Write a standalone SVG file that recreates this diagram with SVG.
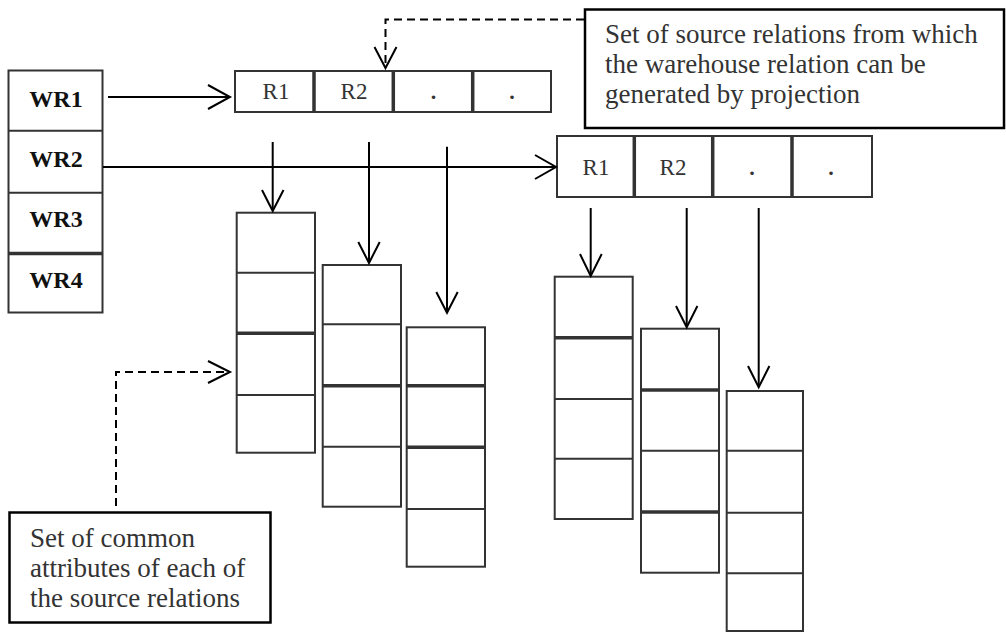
<svg xmlns="http://www.w3.org/2000/svg" width="1006" height="633" viewBox="0 0 1006 633">
  <style>
    .box { fill: #fff; stroke: #333; stroke-width: 2; }
    .div { stroke: #333; stroke-width: 2; }
    .thick { stroke: #333; stroke-width: 3.5; }
    .wr { font-family: "Liberation Serif", "Times New Roman", serif; font-weight: bold; font-size: 24px; fill: #111; text-anchor: middle; }
    .cell { font-family: "Liberation Serif", "Times New Roman", serif; font-size: 23px; fill: #333; text-anchor: middle; }
    .dot { font-family: "Liberation Serif", "Times New Roman", serif; font-weight: bold; font-size: 22px; fill: #333; text-anchor: middle; }
    .note { font-family: "Liberation Serif", "Times New Roman", serif; font-size: 27px; fill: #333; }
    .wire { fill: none; stroke: #000; stroke-width: 2; }
    .dash { fill: none; stroke: #000; stroke-width: 2; stroke-dasharray: 8 5; }
    .head { fill: none; stroke: #000; stroke-width: 2; }
  </style>

  <!-- warehouse relations list -->
  <g id="wr-list">
    <rect class="box" x="8.5" y="70.5" width="94" height="242"/>
    <line class="div" x1="8.5" y1="130.7" x2="102.5" y2="130.7"/>
    <line class="div" x1="8.5" y1="192.7" x2="102.5" y2="192.7"/>
    <line class="thick" x1="8.5" y1="253.5" x2="102.5" y2="253.5"/>
    <text class="wr" x="56" y="107">WR1</text>
    <text class="wr" x="56" y="167">WR2</text>
    <text class="wr" x="56" y="227">WR3</text>
    <text class="wr" x="56" y="288">WR4</text>
  </g>

  <!-- source relations of WR1 -->
  <g id="wr1-sources">
    <rect class="box" x="235" y="71" width="316" height="41"/>
    <line class="thick" x1="314" y1="71" x2="314" y2="112"/>
    <line class="thick" x1="393.3" y1="71" x2="393.3" y2="112"/>
    <line class="thick" x1="472.7" y1="71" x2="472.7" y2="112"/>
    <text class="cell" x="276" y="99">R1</text>
    <text class="cell" x="354" y="99">R2</text>
    <text class="dot" x="433.5" y="99">.</text>
    <text class="dot" x="512" y="99">.</text>
  </g>

  <!-- source relations of WR2 -->
  <g id="wr2-sources">
    <rect class="box" x="557" y="136" width="315" height="61"/>
    <line class="thick" x1="634.3" y1="136" x2="634.3" y2="197"/>
    <line class="thick" x1="712.7" y1="136" x2="712.7" y2="197"/>
    <line class="thick" x1="792" y1="136" x2="792" y2="197"/>
    <text class="cell" x="596" y="175">R1</text>
    <text class="cell" x="673" y="175">R2</text>
    <text class="dot" x="752" y="175">.</text>
    <text class="dot" x="831" y="175">.</text>
  </g>

  <!-- attribute columns under WR1 sources -->
  <g id="wr1-r1-attrs">
    <rect class="box" x="236.7" y="212.7" width="78.3" height="240"/>
    <line class="div" x1="236.7" y1="272.7" x2="315" y2="272.7"/>
    <line class="thick" x1="236.7" y1="333.3" x2="315" y2="333.3"/>
    <line class="div" x1="236.7" y1="395" x2="315" y2="395"/>
  </g>
  <g id="wr1-r2-attrs">
    <rect class="box" x="322.7" y="265" width="78.3" height="241.7"/>
    <line class="div" x1="322.7" y1="324.3" x2="401" y2="324.3"/>
    <line class="thick" x1="322.7" y1="385.7" x2="401" y2="385.7"/>
    <line class="div" x1="322.7" y1="446.7" x2="401" y2="446.7"/>
  </g>
  <g id="wr1-r3-attrs">
    <rect class="box" x="406.7" y="327.3" width="78.3" height="239.4"/>
    <line class="thick" x1="406.7" y1="385.7" x2="485" y2="385.7"/>
    <line class="thick" x1="406.7" y1="447.3" x2="485" y2="447.3"/>
    <line class="div" x1="406.7" y1="509" x2="485" y2="509"/>
  </g>

  <!-- attribute columns under WR2 sources -->
  <g id="wr2-r1-attrs">
    <rect class="box" x="554.7" y="276.7" width="78" height="242.3"/>
    <line class="thick" x1="554.7" y1="337.7" x2="632.7" y2="337.7"/>
    <line class="div" x1="554.7" y1="399" x2="632.7" y2="399"/>
    <line class="div" x1="554.7" y1="458.7" x2="632.7" y2="458.7"/>
  </g>
  <g id="wr2-r2-attrs">
    <rect class="box" x="641" y="328.7" width="78" height="244"/>
    <line class="thick" x1="641" y1="390" x2="719" y2="390"/>
    <line class="div" x1="641" y1="450.7" x2="719" y2="450.7"/>
    <line class="thick" x1="641" y1="512" x2="719" y2="512"/>
  </g>
  <g id="wr2-r3-attrs">
    <rect class="box" x="726.7" y="391" width="76.3" height="240"/>
    <line class="div" x1="726.7" y1="450.7" x2="803" y2="450.7"/>
    <line class="div" x1="726.7" y1="512.7" x2="803" y2="512.7"/>
    <line class="div" x1="726.7" y1="573.3" x2="803" y2="573.3"/>
  </g>

  <!-- callout notes -->
  <g id="note-sources">
    <rect x="585" y="9.5" width="419" height="118.5" fill="#fff" stroke="#000" stroke-width="2.5"/>
    <text class="note" x="605" y="43">Set of source relations from which</text>
    <text class="note" x="605" y="73">the warehouse relation can be</text>
    <text class="note" x="605" y="103">generated by projection</text>
  </g>
  <g id="note-attributes">
    <rect x="9.5" y="512.5" width="261" height="110" fill="#fff" stroke="#000" stroke-width="2.5"/>
    <text class="note" x="30" y="547">Set of common</text>
    <text class="note" x="30" y="577">attributes of each of</text>
    <text class="note" x="30" y="607">the source relations</text>
  </g>

  <!-- connectors -->
  <g id="connectors">
    <!-- WR1 -> its sources -->
    <line class="wire" x1="108" y1="97" x2="229" y2="97"/>
    <polyline class="head" points="208,85 230,97 208,109"/>
    <!-- WR2 -> its sources -->
    <line class="wire" x1="103" y1="167" x2="555" y2="167"/>
    <polyline class="head" points="535,155 556,167 535,179"/>

    <!-- WR1 sources -> attribute columns -->
    <line class="wire" x1="272.7" y1="142" x2="272.7" y2="210"/>
    <polyline class="head" points="262,190 272.7,211 283.5,190"/>
    <line class="wire" x1="369" y1="142" x2="369" y2="262"/>
    <polyline class="head" points="358.3,242 369,263 379.7,242"/>
    <line class="wire" x1="447" y1="146.7" x2="447" y2="312"/>
    <polyline class="head" points="436.3,292 447,312.7 457.7,292"/>

    <!-- WR2 sources -> attribute columns -->
    <line class="wire" x1="590.7" y1="208" x2="590.7" y2="275"/>
    <polyline class="head" points="580,254 590.7,276 601.7,254"/>
    <line class="wire" x1="686.7" y1="208" x2="686.7" y2="326"/>
    <polyline class="head" points="676,306 686.7,327.3 697.4,306"/>
    <line class="wire" x1="758.7" y1="208" x2="758.7" y2="386"/>
    <polyline class="head" points="748,366 758.7,387.3 769.4,366"/>

    <!-- callout pointers -->
    <polyline class="dash" points="584,19.5 385.5,19.5 385.5,66"/>
    <polyline class="head" points="374.5,47 385.5,68 396.5,47"/>
    <polyline class="dash" points="116,506 116,372 228,372"/>
    <polyline class="head" points="208,361 230,372 208,383"/>
  </g>
</svg>
